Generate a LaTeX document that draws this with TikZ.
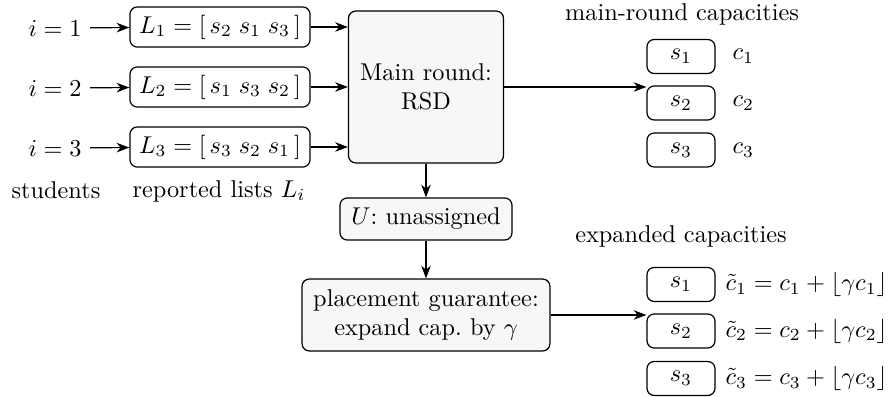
\documentclass[tikz,border=0pt]{standalone}
\usetikzlibrary{arrows.meta}
\tikzset{
  box/.style={draw, rounded corners=3pt, align=center, inner sep=0pt},
  listbox/.style={box, fill=white, minimum width=74.1pt, minimum height=16.5pt},
  stagebox/.style={box, fill=black!3},
  capbox/.style={box, fill=white, minimum width=28pt, minimum height=14pt},
  flow/.style={-{Stealth}},
}
\begin{document}
\begin{tikzpicture}[x=0.4115pt, y=-0.4115pt, line width=0.5pt]
\useasboundingbox (0,0) rectangle (894,397);

% students and their reported lists
\node (i1) at (55,28) {$i=1$};
\node (i2) at (55,88) {$i=2$};
\node (i3) at (55,148) {$i=3$};
\node[listbox] (L1) at (220,27) {$L_1 = [\,s_2\;s_1\;s_3\,]$};
\node[listbox] (L2) at (220,87) {$L_2 = [\,s_1\;s_3\;s_2\,]$};
\node[listbox] (L3) at (220,147) {$L_3 = [\,s_3\;s_2\;s_1\,]$};
\node (stud) at (56,190) {students};
\node (rep) at (219,191) {reported lists $L_i$};

% main round
\node[stagebox, minimum width=63.8pt, minimum height=62.5pt] (main) at (426,87) {Main round:\\RSD};

% main-round capacities
\node (mtitle) at (682,14) {main-round capacities};
\node[capbox] (s1) at (681,56.5) {$s_1$};
\node[capbox] (s2) at (681,103) {$s_2$};
\node[capbox] (s3) at (681,150) {$s_3$};
\node[anchor=west, inner sep=0pt] (c1) at (732,56.5) {$c_1$};
\node[anchor=west, inner sep=0pt] (c2) at (732,103) {$c_2$};
\node[anchor=west, inner sep=0pt] (c3) at (732,150) {$c_3$};

% unassigned students and the placement guarantee
\node[stagebox, minimum width=70.8pt, minimum height=17.3pt] (U) at (426,219) {$U$:\ unassigned};
\node[stagebox, minimum width=102pt, minimum height=29.6pt] (place) at (426,315) {placement guarantee:\\expand cap.\ by $\gamma$};

% expanded capacities
\node (etitle) at (681,236) {expanded capacities};
\node[capbox] (t1) at (681,284.5) {$s_1$};
\node[capbox] (t2) at (681,331) {$s_2$};
\node[capbox] (t3) at (681,378.5) {$s_3$};
\node[anchor=west, inner sep=0pt] (e1) at (725,284.5) {$\tilde c_1 = c_1 + \lfloor \gamma c_1 \rfloor$};
\node[anchor=west, inner sep=0pt] (e2) at (725,331) {$\tilde c_2 = c_2 + \lfloor \gamma c_2 \rfloor$};
\node[anchor=west, inner sep=0pt] (e3) at (725,378.5) {$\tilde c_3 = c_3 + \lfloor \gamma c_3 \rfloor$};

% connectors
\foreach \k in {1,2,3} {
  \draw[flow] (i\k) -- (L\k);
  \draw[flow] (L\k.east) -- (L\k.east -| main.west);
}
\draw[flow] (main.east) -- (main.east -| s2.west);
\draw[flow] (main.south) -- (U.north);
\draw[flow] (U.south) -- (place.north);
\draw[flow] (place.east) -- (place.east -| t2.west);
\end{tikzpicture}
\end{document}
